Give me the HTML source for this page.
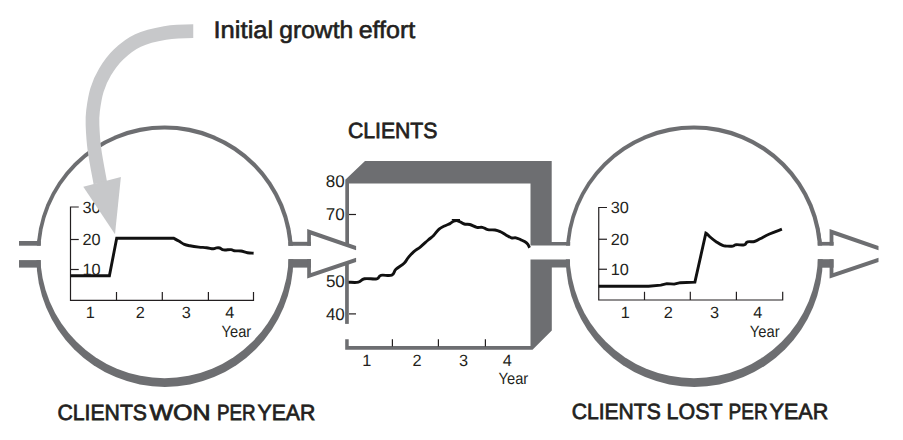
<!DOCTYPE html>
<html>
<head>
<meta charset="utf-8">
<title>Clients stock and flow</title>
<style>
html,body{margin:0;padding:0;background:#fff;}
body{width:903px;height:440px;overflow:hidden;font-family:"Liberation Sans",sans-serif;}
svg{display:block;}
text{font-family:"Liberation Sans",sans-serif;fill:#231f20;text-rendering:geometricPrecision;}
.g{fill:#6d6e71;}
.ax{stroke:#231f20;stroke-width:1.2;fill:none;}
.dl{stroke:#111;stroke-width:2.9;fill:none;stroke-linejoin:miter;stroke-miterlimit:6;stroke-linecap:butt;}
.lab{font-size:22px;stroke:#231f20;stroke-width:0.75px;}
.num{font-size:16.3px;}
</style>
</head>
<body>
<svg width="903" height="440" viewBox="0 0 903 440">
<rect width="903" height="440" fill="#fff"/>

<!-- LEFT CIRCLE -->
<g id="lc">
<circle class="g" cx="164.7" cy="253.6" r="128.2"/><circle class="g" cx="164.9" cy="258.4" r="128.5"/>
<circle cx="164.5" cy="253.85" r="124.3" fill="#fff"/>
<rect x="30" y="245.7" width="20" height="14.4" fill="#fff"/>
<rect x="280" y="245.8" width="20" height="13.4" fill="#fff"/>
<!-- left pipe -->
<rect class="g" x="19" y="241" width="21.8" height="4.7"/>
<rect class="g" x="19" y="260.1" width="21.8" height="7.5"/>
<!-- right pipe + arrowhead -->
<rect class="g" x="288.4" y="241.8" width="22.5" height="4"/>
<rect class="g" x="288.4" y="259.1" width="22.5" height="8.5"/>
<path class="g" d="M307.2,245.8 L307.2,229.1 L356.1,246.1 L356.1,250.3 L310.9,234.7 L310.9,245.8 Z"/>
<path class="g" d="M307.2,259.1 L307.2,278.6 L356.1,261.9 L356.1,257.7 L310.9,272.9 L310.9,259.1 Z"/>
</g>

<!-- RIGHT CIRCLE -->
<g id="rc">
<circle class="g" cx="694" cy="253.6" r="128.2"/><circle class="g" cx="694.3" cy="258.4" r="128.5"/>
<circle cx="693.8" cy="253.85" r="124.3" fill="#fff"/>
<rect x="560" y="245.7" width="20" height="13.6" fill="#fff"/>
<rect x="810" y="245.6" width="20" height="13.6" fill="#fff"/>
<!-- right pipe + arrowhead -->
<rect class="g" x="817.8" y="241.9" width="15.8" height="3.7"/>
<rect class="g" x="817.8" y="259.2" width="15.8" height="8.5"/>
<path class="g" d="M829.6,245.6 L829.6,229.1 L878.5,246.1 L878.5,250.3 L833.4,234.7 L833.4,245.6 Z"/>
<path class="g" d="M829.6,259.2 L829.6,278.6 L878.5,261.9 L878.5,257.7 L833.4,272.9 L833.4,259.2 Z"/>
</g>

<!-- CENTER BOX -->
<g id="box">
<path class="g" d="M345.3,179.8 L365,161 L551.7,161 L551.7,242 L570.2,242 L570.2,245.6 L530.5,245.6 L530.5,183.6 L349,183.6 L349,245 L345.3,245 Z"/>
<rect class="g" x="345.1" y="262" width="3.7" height="61.9"/>
<path class="g" d="M530.5,259.4 L570,259.4 L570,267.6 L551.8,267.6 L551.8,330.5 L532.5,349.8 L345.2,349.8 L345.2,339.2 L348.7,339.2 L348.7,346.1 L530.5,346.1 Z"/>
<!-- ticks -->
<g class="ax">
<line x1="349" y1="214.5" x2="356" y2="214.5"/>
<line x1="349" y1="313.9" x2="356" y2="313.9"/>
<line x1="392.4" y1="339.2" x2="392.4" y2="346.5"/>
<line x1="438.4" y1="339.2" x2="438.4" y2="346.5"/>
<line x1="485.4" y1="339.2" x2="485.4" y2="346.5"/>
</g>
<path class="dl" d="M348.60,282.20 C350.56,282.20 355.22,282.88 358.40,282.20 C361.58,281.52 360.82,279.48 364.50,278.80 C368.18,278.12 373.52,279.50 376.80,278.80 C380.08,278.10 377.90,276.04 380.90,275.30 C383.90,274.56 388.80,276.30 391.80,275.10 C394.80,273.90 393.44,271.68 395.90,269.30 C398.36,266.92 401.64,265.54 404.10,263.20 C406.56,260.86 406.30,259.88 408.20,257.60 C410.10,255.32 411.14,253.96 413.60,251.80 C416.06,249.64 417.58,249.16 420.50,246.80 C423.42,244.44 425.58,242.26 428.20,240.00 C430.82,237.74 431.42,237.68 433.60,235.50 C435.78,233.32 436.92,231.00 439.10,229.10 C441.28,227.20 442.32,227.10 444.50,226.00 C446.68,224.90 448.18,224.56 450.00,223.60 C451.82,222.64 452.32,221.82 453.60,221.20 C454.88,220.58 455.30,220.48 456.40,220.50 C457.50,220.52 457.52,220.60 459.10,221.30 C460.68,222.00 462.16,223.36 464.30,224.00 C466.44,224.64 467.30,223.84 469.80,224.50 C472.30,225.16 474.30,226.74 476.80,227.30 C479.30,227.86 480.12,226.84 482.30,227.30 C484.48,227.76 485.16,229.06 487.70,229.60 C490.24,230.14 492.44,229.56 495.00,230.00 C497.56,230.44 498.32,230.82 500.50,231.80 C502.68,232.78 503.72,233.70 505.90,234.90 C508.08,236.10 509.40,237.22 511.40,237.80 C513.40,238.38 514.08,237.44 515.90,237.80 C517.72,238.16 518.68,238.80 520.50,239.60 C522.32,240.40 523.56,240.88 525.00,241.80 C526.44,242.72 526.78,243.00 527.70,244.20 C528.62,245.40 529.22,247.08 529.60,247.80"/>
<line x1="451.8" y1="219.7" x2="460" y2="219.7" stroke="#111" stroke-width="1.4"/>
</g>

<!-- LEFT CHART -->
<g id="lchart">
<g class="ax">
<path d="M78.75,207 L70.5,207 L70.5,300.3 L253.5,300.3 L253.5,292"/>
<line x1="70.5" y1="239.5" x2="78.75" y2="239.5"/>
<line x1="70.5" y1="269.5" x2="78.75" y2="269.5"/>
<line x1="116.5" y1="292" x2="116.5" y2="300.3"/>
<line x1="162.3" y1="292" x2="162.3" y2="300.3"/>
<line x1="208.4" y1="292" x2="208.4" y2="300.3"/>
</g>
<path class="dl" d="M70.5,275.8 L109.4,275.8 L116.7,238.3 L173.8,238.3 C174.80,238.86 176.68,239.88 178.80,241.10 C180.92,242.32 182.18,243.46 184.40,244.40 C186.62,245.34 187.02,245.26 189.90,245.80 C192.78,246.34 195.48,246.72 198.80,247.10 C202.12,247.48 203.62,247.36 206.50,247.70 C209.38,248.04 211.20,248.76 213.20,248.80 C215.20,248.84 215.18,248.06 216.50,247.90 C217.82,247.74 218.36,247.60 219.80,248.00 C221.24,248.40 221.48,249.58 223.70,249.90 C225.92,250.22 228.80,249.42 230.90,249.60 C233.00,249.78 232.22,250.52 234.20,250.80 C236.18,251.08 238.14,250.62 240.80,251.00 C243.46,251.38 244.94,252.26 247.50,252.70 C250.06,253.14 252.38,253.10 253.60,253.20"/>
<g class="num">
<text x="82.5" y="212.8">30</text>
<text x="82.5" y="245">20</text>
<text x="82.5" y="274.6">10</text>
<text x="90.2" y="317.6" text-anchor="middle">1</text>
<text x="140.2" y="317.6" text-anchor="middle">2</text>
<text x="186.3" y="317.6" text-anchor="middle">3</text>
<text x="229.8" y="317.6" text-anchor="middle">4</text>
<text x="221.6" y="336.6" textLength="29.6" lengthAdjust="spacingAndGlyphs">Year</text>
</g>
</g>

<!-- RIGHT CHART -->
<g id="rchart">
<g class="ax">
<path d="M607,207.5 L598.75,207.5 L598.75,300 L782.7,300 L782.7,291.8"/>
<line x1="598.75" y1="239.25" x2="607" y2="239.25"/>
<line x1="598.75" y1="269.25" x2="607" y2="269.25"/>
<line x1="644.5" y1="291.8" x2="644.5" y2="300"/>
<line x1="690.3" y1="291.8" x2="690.3" y2="300"/>
<line x1="736.4" y1="291.8" x2="736.4" y2="300"/>
</g>
<path class="dl" d="M598.6,286.3 L648.6,286.3 L660.8,285.1 L666.9,283.6 L674.2,284.1 L680.3,282.7 L694.9,282.1 L705.9,233.0 C707.02,233.44 708.11,235.14 710.70,237.50 C713.29,239.86 714.22,240.46 717.00,242.30 C719.78,244.14 720.36,244.51 722.60,245.40 C724.84,246.29 724.20,245.94 726.60,246.10 C729.00,246.26 730.68,246.43 732.90,246.10 C735.12,245.77 733.49,245.00 736.10,244.70 C738.71,244.40 741.42,245.45 744.10,244.80 C746.78,244.15 745.20,242.67 747.60,241.90 C750.00,241.13 751.51,242.22 754.40,241.50 C757.29,240.78 756.48,240.55 760.00,238.80 C763.52,237.05 764.39,236.24 769.50,234.00 C774.61,231.76 779.01,230.32 781.90,229.20"/>
<g class="num">
<text x="610.75" y="213">30</text>
<text x="610.75" y="245">20</text>
<text x="610.75" y="274.6">10</text>
<text x="625.2" y="317.5" text-anchor="middle">1</text>
<text x="668.2" y="317.5" text-anchor="middle">2</text>
<text x="714.5" y="317.5" text-anchor="middle">3</text>
<text x="757.7" y="317.5" text-anchor="middle">4</text>
<text x="749.8" y="336.5" textLength="29.8" lengthAdjust="spacingAndGlyphs">Year</text>
</g>
</g>

<!-- CENTER LABELS -->
<g class="num" style="font-size:17px">
<text x="325.7" y="186.8">80</text>
<text x="325.7" y="220.4">70</text>
<text x="325.9" y="287">50</text>
<text x="325.9" y="320">40</text>
<text x="366.8" y="365.9" text-anchor="middle" style="font-size:16.3px">1</text>
<text x="417" y="365.9" text-anchor="middle" style="font-size:16.3px">2</text>
<text x="463.5" y="365.9" text-anchor="middle" style="font-size:16.3px">3</text>
<text x="507.3" y="365.9" text-anchor="middle" style="font-size:16.3px">4</text>
<text x="498.6" y="384.4" textLength="29.6" lengthAdjust="spacingAndGlyphs" style="font-size:16.3px">Year</text>
</g>

<!-- GREY CURVED ARROW -->
<g id="garrow">
<path d="M193.25,31.10 C186.00,31.10 174.21,31.43 165.00,33.00 C155.79,34.57 145.75,36.92 138.00,40.50 C130.25,44.08 124.00,49.25 118.50,54.50 C113.00,59.75 108.58,66.08 105.00,72.00 C101.42,77.92 99.00,83.50 97.00,90.00 C95.00,96.50 93.75,105.17 93.00,111.00 C92.25,116.83 92.25,118.50 92.50,125.00 C92.75,131.50 93.20,140.33 94.50,150.00 C95.80,159.67 99.33,177.50 100.30,183.00" fill="none" stroke="#c7c8ca" stroke-width="13.7"/>
<path d="M83.3,186.7 L120.9,177 L115,234.2 Z" fill="#c7c8ca"/>
</g>

<!-- TITLES -->
<g style="font-size:24px;stroke:#231f20;stroke-width:0.6px">
<text x="213.5" y="37.9" textLength="59.82" lengthAdjust="spacingAndGlyphs">Initial</text>
<text x="279.26" y="37.9" textLength="73.96" lengthAdjust="spacingAndGlyphs">growth</text>
<text x="358.69" y="37.9" textLength="56.57" lengthAdjust="spacingAndGlyphs">effort</text>
</g>
<g class="lab">
<text x="347.88" y="138.4" textLength="89.61" lengthAdjust="spacingAndGlyphs">CLIENTS</text>
<text x="57.49" y="419.9" textLength="89.49" lengthAdjust="spacingAndGlyphs">CLIENTS</text>
<text x="149.45" y="419.9" textLength="61.19" lengthAdjust="spacingAndGlyphs">WON</text>
<text x="216.96" y="419.9" textLength="38.64" lengthAdjust="spacingAndGlyphs">PER</text>
<text x="257.53" y="419.9" textLength="57.8" lengthAdjust="spacingAndGlyphs">YEAR</text>
<text x="571.69" y="418.9" textLength="89.11" lengthAdjust="spacingAndGlyphs">CLIENTS</text>
<text x="666.61" y="418.9" textLength="55.84" lengthAdjust="spacingAndGlyphs">LOST</text>
<text x="728.55" y="418.9" textLength="39.07" lengthAdjust="spacingAndGlyphs">PER</text>
<text x="769.62" y="418.9" textLength="58.61" lengthAdjust="spacingAndGlyphs">YEAR</text>
</g>
</svg>
</body>
</html>
